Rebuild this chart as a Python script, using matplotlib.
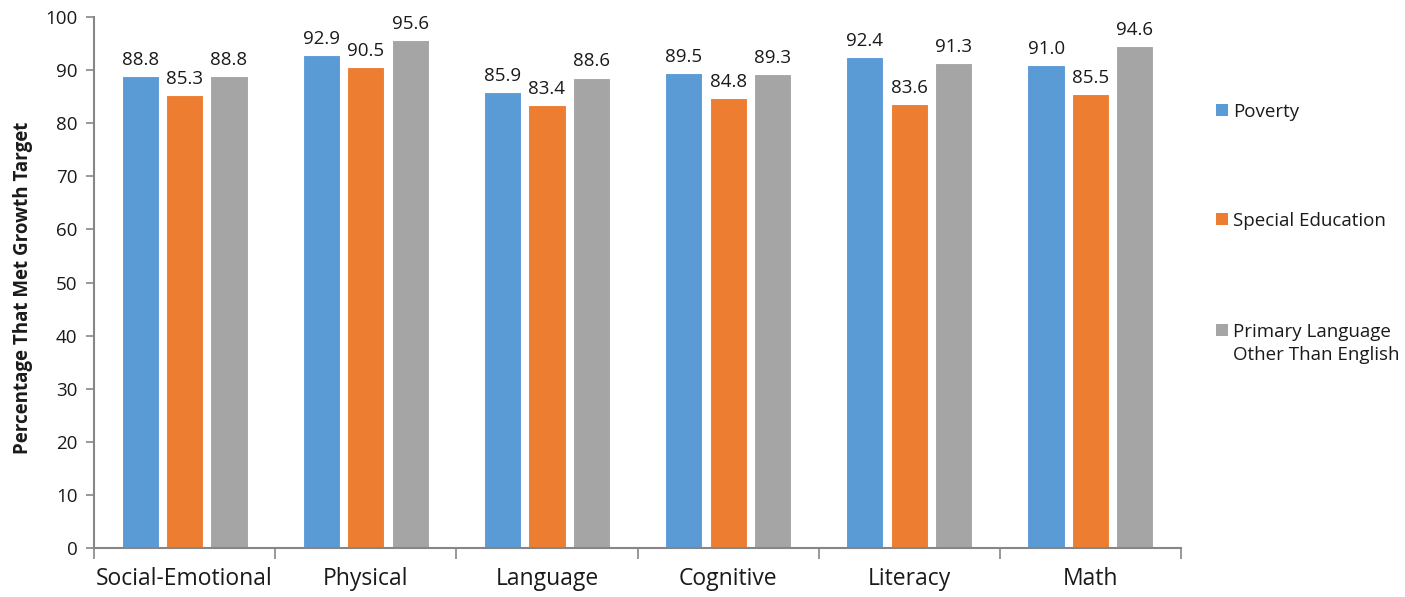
import matplotlib
matplotlib.use("Agg")
import matplotlib.pyplot as plt
from matplotlib.patches import Rectangle
import numpy as np

categories = ["Social-Emotional", "Physical", "Language", "Cognitive", "Literacy", "Math"]
series_names = ["Poverty", "Special Education", "Primary Language\nOther Than English"]
poverty = [88.8, 92.9, 85.9, 89.5, 92.4, 91.0]
special_education = [85.3, 90.5, 83.4, 84.8, 83.6, 85.5]
primary_language = [88.8, 95.6, 88.6, 89.3, 91.3, 94.6]
y_ticks = list(range(0, 101, 10))

colors = ["#5B9BD5", "#ED7D31", "#A5A5A5"]
axis_color = "#868686"
text_color = "#1a1a1a"

plt.rcParams["font.family"] = ["Open Sans", "DejaVu Sans"]

W, H = 1405, 597
fig = plt.figure(figsize=(W / 100, H / 100), dpi=100)
ax = fig.add_axes([0.0669, 0.0821, 0.7737, 0.8894])

x = np.arange(len(categories))
width = 0.205
step = 0.245
for i, (vals, color) in enumerate(zip([poverty, special_education, primary_language], colors)):
    bars = ax.bar(x + (i - 1) * step, vals, width, color=color, edgecolor="white",
                  linewidth=0.8, zorder=2)
    for b, v in zip(bars, vals):
        ax.annotate(f"{v:.1f}", (b.get_x() + b.get_width() / 2, v), xytext=(0, 8),
                    textcoords="offset points", ha="center", va="baseline",
                    fontsize=13.5, color=text_color)

ax.set_xlim(-0.5, len(categories) - 0.5)
ax.set_ylim(0, 100)
ax.set_yticks(y_ticks)
ax.tick_params(axis="y", labelsize=13.5, colors=axis_color, labelcolor=text_color,
               length=6, width=1.2, direction="out", pad=6)

# category labels centred, separator ticks on group boundaries
ax.set_xticks(x)
ax.set_xticklabels(categories, fontsize=16.5, color=text_color)
ax.tick_params(axis="x", length=0, pad=14)
ax.set_xticks(np.arange(-0.5, len(categories)), minor=True)
ax.tick_params(axis="x", which="minor", length=8, width=1.2, color=axis_color, direction="out")

for side in ["top", "right"]:
    ax.spines[side].set_visible(False)
for side in ["left", "bottom"]:
    ax.spines[side].set_color(axis_color)
    ax.spines[side].set_linewidth(1.5)

fig.text(23 / W, 1 - 288 / H, "Percentage That Met Growth Target", rotation=90,
         ha="center", va="center", fontsize=13.5, fontweight="bold", color=text_color)

# legend: square swatch beside the first line of each label
legend_rows = [110, 219, 330]
for name, color, yc in zip(series_names, colors, legend_rows):
    fig.patches.append(Rectangle((1216 / W, 1 - (yc + 6) / H), 12 / W, 12 / H,
                                 transform=fig.transFigure, facecolor=color,
                                 edgecolor="none"))
    fig.text(1233 / W, 1 - (yc - 7) / H, name, ha="left", va="top",
             fontsize=13.5, color=text_color, linespacing=1.35)

fig.savefig("out.png", dpi=100)
